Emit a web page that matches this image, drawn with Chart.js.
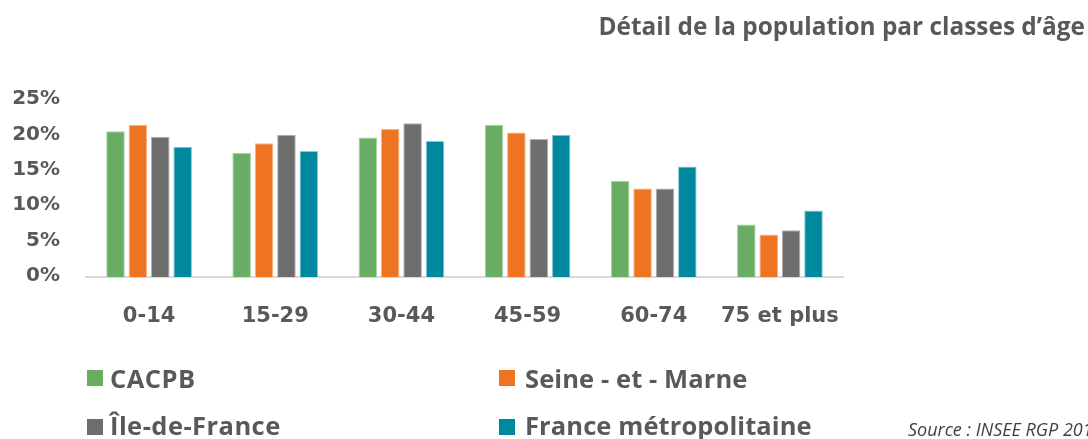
<!DOCTYPE html>
<html>
<head>
<meta charset="utf-8">
<script src="https://cdn.jsdelivr.net/npm/chart.js@4/dist/chart.umd.min.js"></script>
<style>
  html, body { margin: 0; padding: 0; background: #ffffff; overflow: hidden; }
  body { width: 1088px; height: 439px; position: relative; }
  #wrap { position: absolute; left: 0; top: 0; width: 1088px; height: 439px; }
  #title { position: absolute; right: 3px; top: 14px; font-family: "Open Sans", sans-serif; font-weight: bold; font-size: 24.4px; line-height: 24px; color: #595959; white-space: nowrap; }
  .box { position: absolute; width: 16px; height: 16px; }
  .ltxt { position: absolute; font-family: "Open Sans", sans-serif; font-weight: bold; font-size: 25.5px; line-height: 26px; color: #595959; white-space: nowrap; }
  .ltxt.c1 { letter-spacing: 0.45px; }
  .ltxt.c2 { letter-spacing: 0.1px; }
  #source { position: absolute; left: 908px; top: 420px; font-family: "Open Sans", sans-serif; font-style: italic; font-size: 18px; line-height: 18px; color: #404040; white-space: nowrap; }
</style>
</head>
<body>
<div id="wrap"><canvas id="c" width="1088" height="439"></canvas></div>
<div id="title"></div>
<div id="legend"></div>
<div id="source"></div>
<script>
const titleText = "Détail de la population par classes d’âge";
const sourceText = "Source : INSEE RGP 2016";
const categories = ["0-14", "15-29", "30-44", "45-59", "60-74", "75 et plus"];
const seriesNames = ["CACPB", "Seine - et - Marne", "Île-de-France", "France métropolitaine"];
const cacpb = [20.6, 17.5, 19.7, 21.5, 13.6, 7.4];
const seineEtMarne = [21.5, 18.9, 20.9, 20.4, 12.5, 6.0];
const ileDeFrance = [19.8, 20.1, 21.7, 19.5, 12.5, 6.6];
const franceMetro = [18.4, 17.8, 19.2, 20.1, 15.6, 9.4];
const yTicks = [0, 5, 10, 15, 20, 25];

const colors = ["#68AD63", "#EF7422", "#6D6D6D", "#00889F"];
const borders = ["#A8D2A4", "#F6B487", "#B0B0B0", "#8CCAD6"];
const seriesData = [cacpb, seineEtMarne, ileDeFrance, franceMetro];

document.getElementById('title').textContent = titleText;
document.getElementById('source').textContent = sourceText;

// legend layout: [boxLeft, boxTop, textLeft, textTop, columnClass]
const legendLayout = [[87, 370, 110, 365, 'c1'], [499, 370, 525, 365, 'c2'], [87, 419, 110, 412, 'c1'], [499, 419, 525, 412, 'c2']];
const legendEl = document.getElementById('legend');
seriesNames.forEach((n, i) => {
  const L = legendLayout[i];
  const b = document.createElement('div'); b.className = 'box';
  b.style.left = L[0] + 'px'; b.style.top = L[1] + 'px'; b.style.background = colors[i];
  const t = document.createElement('div'); t.className = 'ltxt ' + L[4];
  t.style.left = L[2] + 'px'; t.style.top = L[3] + 'px'; t.textContent = n;
  legendEl.appendChild(b); legendEl.appendChild(t);
});

const textColor = "#595959";
new Chart(document.getElementById('c'), {
  type: 'bar',
  data: {
    labels: categories,
    datasets: seriesNames.map((n, i) => ({
      label: n,
      data: seriesData[i],
      backgroundColor: colors[i],
      borderColor: borders[i],
      borderWidth: 1,
      categoryPercentage: 0.71,
      barPercentage: 0.83
    }))
  },
  options: {
    responsive: false,
    animation: false,
    devicePixelRatio: 1,
    layout: { padding: { left: 0, top: 100, right: 245, bottom: 0 } },
    plugins: { legend: { display: false }, tooltip: { enabled: false }, title: { display: false } },
    scales: {
      x: {
        grid: { display: false, drawTicks: false },
        border: { display: true, color: "#D9D9D9", width: 2 },
        ticks: { color: textColor, font: { family: "DejaVu Sans", weight: 'bold', size: 21 }, padding: 27, maxRotation: 0, autoSkip: false },
        afterFit: (s) => { s.height = 162; }
      },
      y: {
        min: 0, max: 25,
        afterBuildTicks: (s) => { s.ticks = yTicks.map(v => ({ value: v })); },
        grid: { display: false, drawTicks: false },
        border: { display: false },
        ticks: { color: textColor, font: { family: "DejaVu Sans", weight: 'bold', size: 20 }, padding: 26, labelOffset: -1, callback: (v) => v + '%' },
        afterFit: (s) => { s.width = 86; }
      }
    }
  }
});
</script>
</body>
</html>
